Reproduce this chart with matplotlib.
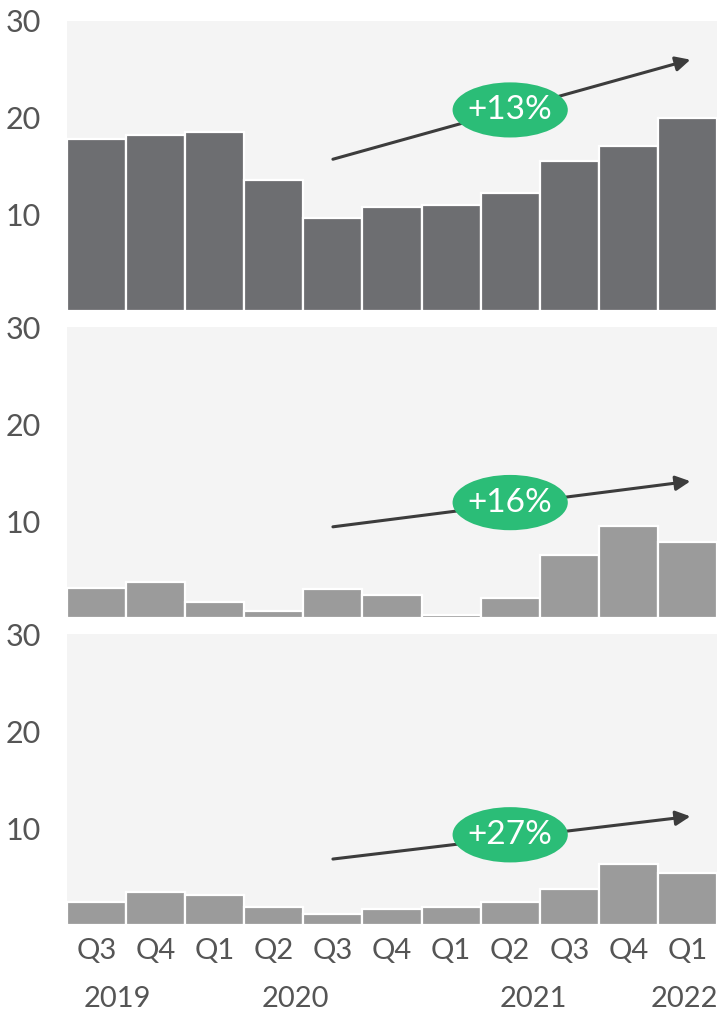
import matplotlib
matplotlib.use("Agg")
import matplotlib.pyplot as plt
from matplotlib.patches import Ellipse

plt.rcParams['font.family'] = ['Lato', 'DejaVu Sans']

quarters = ["Q3", "Q4", "Q1", "Q2", "Q3", "Q4", "Q1", "Q2", "Q3", "Q4", "Q1"]
years = ["2019", "2020", "2021", "2022"]
year_pos = [0.35, 3.37, 7.4, 9.95]

series_top = [17.8, 18.2, 18.5, 13.5, 9.6, 10.8, 11.0, 12.2, 15.5, 17.1, 20.0]
series_mid = [3.1, 3.7, 1.7, 0.7, 3.0, 2.4, 0.3, 2.1, 6.5, 9.5, 7.8]
series_bot = [2.4, 3.4, 3.1, 1.9, 1.1, 1.6, 1.9, 2.4, 3.7, 6.25, 5.4]
growth = ["+13%", "+16%", "+27%"]

# trend arrow endpoints (x in bar index, y in value units) and badge centres
arrow_start = [(4, 15.7), (4, 9.4), (4, 6.8)]
arrow_end = [(10.05, 26.0), (10.05, 14.1), (10.05, 11.2)]
badge_y = [20.8, 11.9, 9.3]

series = [series_top, series_mid, series_bot]
bar_colors = ["#6d6e71", "#9b9b9b", "#9b9b9b"]
panel_bg = "#f4f4f4"
text_col = "#555555"
green = "#2bbd77"

fig = plt.figure(figsize=(7.17, 10.13), dpi=100)
W, H = 717, 1013
panels_px = [(21, 311), (327, 618), (634, 925)]
left_px, right_px = 67, 717

x = list(range(len(quarters)))
for k, (top, bot) in enumerate(panels_px):
    ax = fig.add_axes([left_px / W, 1 - bot / H, (right_px - left_px) / W, (bot - top) / H])
    ax.set_facecolor(panel_bg)
    ax.bar(x, series[k], width=1.0, color=bar_colors[k], edgecolor="white", linewidth=1.6, zorder=2)
    ax.set_xlim(-0.5, len(quarters) - 0.5)
    ax.set_ylim(0, 30)
    ax.set_yticks([10, 20, 30])
    ax.set_yticklabels(["10", "20", "30"])
    for s in ax.spines.values():
        s.set_visible(False)
    ax.tick_params(axis="y", length=0, pad=19, labelsize=22, labelcolor=text_col)
    if k == 2:
        ax.set_xticks(x)
        ax.set_xticklabels(quarters)
        ax.tick_params(axis="x", length=0, pad=9, labelsize=21, labelcolor=text_col)
        for yr, xp in zip(years, year_pos):
            ax.text(xp, -7.6, yr, ha="center", va="center", fontsize=21, color=text_col,
                    clip_on=False)
    else:
        ax.set_xticks([])

    ax.annotate("", xy=arrow_end[k], xytext=arrow_start[k],
                arrowprops=dict(arrowstyle="-|>", color="#3c3c3c", lw=2.2,
                                mutation_scale=22, shrinkA=0, shrinkB=0),
                zorder=3)
    ax.add_patch(Ellipse((7.0, badge_y[k]), width=1.95, height=5.7,
                         facecolor=green, edgecolor="none", zorder=4))
    ax.text(7.0, badge_y[k], growth[k], ha="center", va="center", color="white",
            fontsize=24, zorder=5)

fig.savefig("out.png", dpi=100)
